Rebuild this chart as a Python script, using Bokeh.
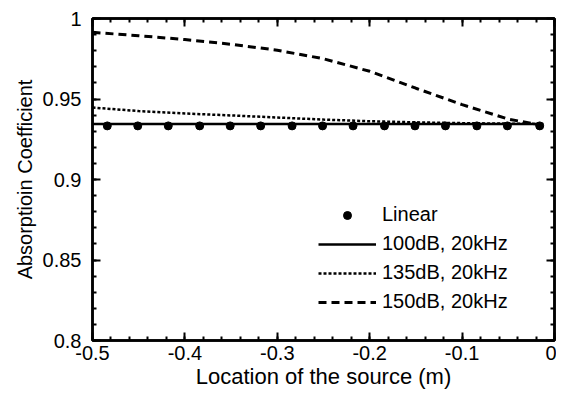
from bokeh.plotting import figure
from bokeh.models import Range1d, LinearAxis, FixedTicker, Legend, LegendItem
from bokeh.embed import file_html
from bokeh.resources import INLINE

# Data
linear_x = [-0.484, -0.451, -0.418, -0.384, -0.351, -0.318, -0.284, -0.251,
            -0.218, -0.184, -0.151, -0.118, -0.084, -0.051, -0.016]
linear_y = [0.9333] * 15

db100_x = [-0.5, -0.25, -0.012]
db100_y = [0.9345, 0.9345, 0.9345]

curve_x = [-0.5, -0.45, -0.4, -0.35, -0.3, -0.25, -0.2, -0.15, -0.1, -0.05, -0.015]
db135_y = [0.9447, 0.9425, 0.9410, 0.9398, 0.9385, 0.9372, 0.9362, 0.9355, 0.9350, 0.9347, 0.9345]
db150_y = [0.9914, 0.9893, 0.9869, 0.9840, 0.9803, 0.9750, 0.9672, 0.9567, 0.9465, 0.9375, 0.9338]

x_ticks = [-0.5, -0.4, -0.3, -0.2, -0.1, 0.0]
x_labels = ["-0.5", "-0.4", "-0.3", "-0.2", "-0.1", "0"]
y_ticks = [0.8, 0.85, 0.9, 0.95, 1.0]
y_labels = ["0.8", "0.85", "0.9", "0.95", "1"]
x_minor = [round(-0.5 + 0.02 * i, 4) for i in range(26)]
y_minor = [round(0.8 + 0.01 * i, 4) for i in range(21)]

FONT = "Liberation Sans"

p = figure(width=556, height=391, output_backend="svg", toolbar_location=None,
           x_range=Range1d(-0.5, 0.0), y_range=Range1d(0.8, 1.0),
           min_border_left=92, min_border_right=2, min_border_top=18, min_border_bottom=50)
p.xgrid.visible = False
p.ygrid.visible = False
p.outline_line_color = "black"
p.outline_line_width = 2.5
p.background_fill_color = "white"
p.border_fill_color = "white"

def style_axis(ax, ticks, minor, labels, show_labels=True):
    ax.ticker = FixedTicker(ticks=ticks, minor_ticks=minor)
    ax.major_tick_in = 8
    ax.major_tick_out = 0
    ax.minor_tick_in = 4
    ax.minor_tick_out = 0
    ax.major_tick_line_width = 2
    ax.minor_tick_line_width = 2
    ax.axis_line_width = 2.5
    ax.axis_line_color = "black"
    ax.major_tick_line_color = "black"
    ax.minor_tick_line_color = "black"
    ax.major_label_text_font = FONT
    ax.major_label_text_color = "black"
    if show_labels:
        ax.major_label_overrides = {t: l for t, l in zip(ticks, labels)}
        ax.major_label_text_font_size = "20px"
    else:
        ax.major_label_overrides = {t: "" for t in ticks}
        ax.major_label_text_font_size = "1px"
        ax.major_label_standoff = 0

style_axis(p.xaxis[0], x_ticks, x_minor, x_labels)
style_axis(p.yaxis[0], y_ticks, y_minor, y_labels)
p.xaxis[0].major_label_standoff = 5
p.yaxis[0].major_label_standoff = 11
p.xaxis[0].axis_label = "Location of the source (m)"
p.yaxis[0].axis_label = "Absorptioin Coefficient"
for ax in (p.xaxis[0], p.yaxis[0]):
    ax.axis_label_text_font = FONT
    ax.axis_label_text_font_style = "normal"
    ax.axis_label_text_color = "black"
p.xaxis[0].axis_label_standoff = 1
p.yaxis[0].axis_label_standoff = 4
p.xaxis[0].axis_label_text_font_size = "22px"
p.yaxis[0].axis_label_text_font_size = "20px"

top_ax = LinearAxis()
right_ax = LinearAxis()
style_axis(top_ax, x_ticks, x_minor, x_labels, show_labels=False)
style_axis(right_ax, y_ticks, y_minor, y_labels, show_labels=False)
p.add_layout(top_ax, "above")
p.add_layout(right_ax, "right")

r_lin = p.scatter(linear_x, linear_y, size=8, color="black", marker="circle")
r100 = p.line(db100_x, db100_y, line_color="black", line_width=2.5)
r135 = p.line(curve_x, db135_y, line_color="black", line_width=2.5, line_dash="3 2")
r150 = p.line(curve_x, db150_y, line_color="black", line_width=3, line_dash="8 5")

legend = Legend(items=[
    LegendItem(label="Linear", renderers=[r_lin]),
    LegendItem(label="100dB, 20kHz", renderers=[r100]),
    LegendItem(label="135dB, 20kHz", renderers=[r135]),
    LegendItem(label="150dB, 20kHz", renderers=[r150]),
], location=(226, 27))
legend.label_text_font = FONT
legend.label_text_font_size = "20px"
legend.label_text_color = "black"
legend.glyph_width = 58
legend.glyph_height = 20
legend.label_height = 20
legend.spacing = 6
legend.label_standoff = 6
legend.padding = 0
legend.margin = 0
legend.border_line_color = None
legend.background_fill_alpha = 0
p.add_layout(legend, "center")

open("out.html", "w").write(file_html(p, INLINE))
